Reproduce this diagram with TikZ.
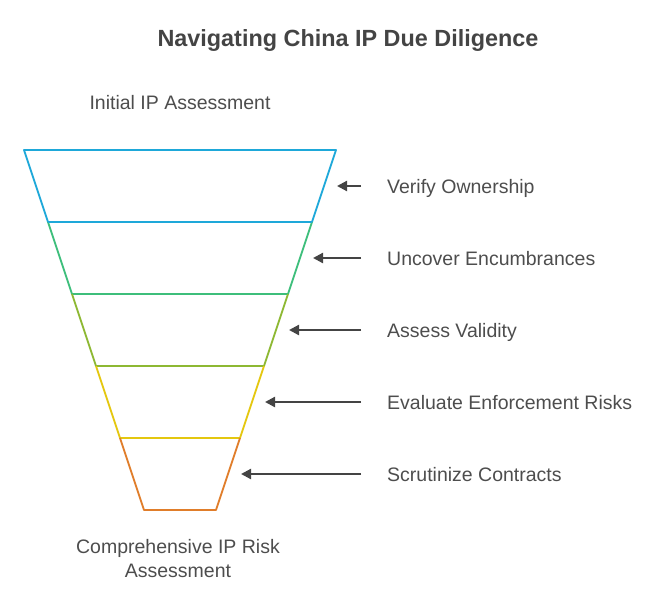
\documentclass[tikz,border=0pt]{standalone}
\usepackage{fontspec}
\setmainfont{Liberation Sans}
\usepackage{xcolor}
\usetikzlibrary{arrows.meta}

\definecolor{txtgray}{HTML}{4D4D4D}
\definecolor{arrgray}{HTML}{444444}
\definecolor{fblue}{HTML}{1EA8D9}
\definecolor{fgreen}{HTML}{3DBE7B}
\definecolor{flime}{HTML}{8DB833}
\definecolor{fyellow}{HTML}{E4C70F}
\definecolor{forange}{HTML}{E07D2A}

\tikzset{
	label/.style={anchor=west,inner sep=0pt,text height=14pt,text depth=0pt,text=txtgray,font=\fontsize{19.5}{24}\selectfont},
	endtext/.style={inner sep=0pt,text=txtgray,align=center,font=\fontsize{19.5}{24}\selectfont},
	band/.style={line width=1.8pt,line join=round}
}

\begin{document}
\begin{tikzpicture}[x=1pt,y=-1pt]
			\useasboundingbox (0,0) rectangle (661,597);
			\node[inner sep=0pt,text height=17pt,text depth=0pt] (title) at (348,38) {\fontsize{23.4}{28}\selectfont\bfseries\color{arrgray}Navigating China IP Due Diligence};
			\node[endtext,text height=14pt,text depth=0pt] (top) at (180,102) {Initial IP Assessment};
			\node[endtext] (bottom) at (178,559) {Comprehensive IP Risk\\Assessment};
			%
			\draw[band,fblue] (24,150) -- (336,150) -- (312,222) -- (48,222) -- cycle;
			\draw[band,fgreen] (48,222) -- (72,294) -- (288,294) -- (312,222);
			\draw[band,flime] (72,294) -- (96,366) -- (264,366) -- (288,294);
			\draw[band,fyellow] (96,366) -- (120,438) -- (240,438) -- (264,366);
			\draw[band,forange] (120,438) -- (144,510) -- (216,510) -- (240,438);
			\draw[band,fblue] (48,222) -- (312,222);
			%
			\node[label] (verify) at (387,186) {Verify Ownership};
			\node[label] (uncover) at (387,258) {Uncover Encumbrances};
			\node[label] (validity) at (387,330) {Assess Validity};
			\node[label] (enforce) at (387,402) {Evaluate Enforcement Risks};
			\node[label] (contracts) at (387,474) {Scrutinize Contracts};
			%
			\coordinate (verify') at (337,186);
			\coordinate (uncover') at (313,258);
			\coordinate (validity') at (289,330);
			\coordinate (enforce') at (265,402);
			\coordinate (contracts') at (241,474);
			%
			\path[-{Triangle[length=10pt,width=10pt]},arrgray,line width=2.2pt,shorten <=26pt]
				(verify.west) edge (verify')
				(uncover.west) edge (uncover')
				(validity.west) edge (validity')
				(enforce.west) edge (enforce')
				(contracts.west) edge (contracts');
		\end{tikzpicture}
\end{document}
